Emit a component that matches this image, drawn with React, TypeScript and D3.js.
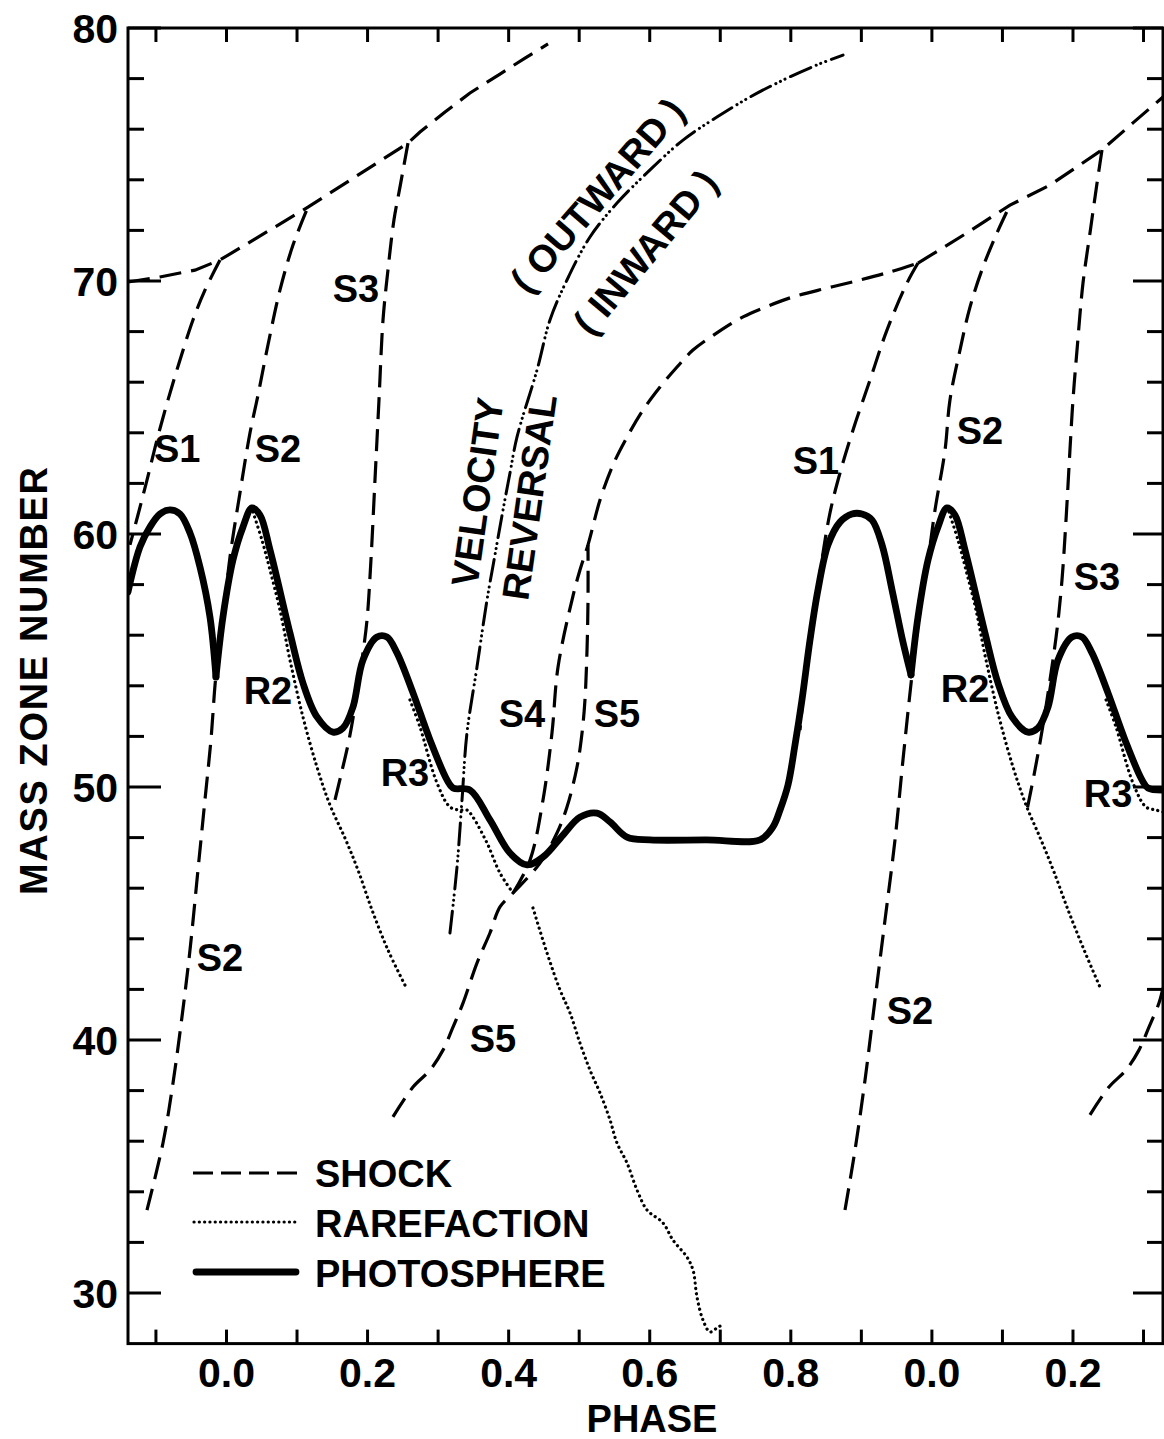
import React from 'react';
import * as d3 from 'd3';

type P = [number, number];

// ---------- data (phase, mass zone) ----------
const envelopeA: P[] = [
  [-0.1396, 69.96], [-0.0943, 70.16], [-0.0447, 70.43], [-0.0092, 70.83],
  [0.1155, 72.92], [0.2573, 75.45], [0.2743, 75.89], [0.3098, 76.68],
  [0.3452, 77.43], [0.3877, 78.18], [0.4232, 78.81], [0.4558, 79.37],
];
const envelopeB: P[] = [
  [0.9803, 70.71], [1.0497, 71.9], [1.1107, 73.0], [1.1674, 73.79],
  [1.2411, 75.18], [1.285, 76.25], [1.3276, 77.27],
];
const shockS1a: P[] = [
  [-0.0092, 70.83], [-0.0305, 69.64], [-0.0475, 68.46], [-0.0659, 66.88],
  [-0.0829, 65.3], [-0.0985, 63.72], [-0.1127, 62.13], [-0.1255, 60.75], [-0.1368, 59.57],
];
const shockS2a: P[] = [
  [-0.1127, 33.28], [-0.09, 35.93], [-0.0758, 38.3], [-0.0631, 40.91], [-0.0517, 43.56],
  [-0.0404, 46.72], [-0.0305, 49.49], [-0.022, 51.86], [-0.0149, 54.43], [-0.005, 56.6],
  [0.005, 59.09], [0.0191, 61.62], [0.0333, 63.99], [0.0447, 65.49], [0.0588, 67.47],
  [0.0758, 69.64], [0.0943, 71.42], [0.1155, 72.92],
];
const shockS3a: P[] = [
  [0.2573, 75.45], [0.246, 73.72], [0.2374, 72.41], [0.2289, 70.43], [0.2219, 68.46],
  [0.2162, 65.3], [0.2105, 62.13], [0.2048, 58.97], [0.1992, 56.6], [0.1921, 55.02],
  [0.1836, 53.44], [0.1737, 51.86], [0.1623, 50.47], [0.151, 49.17],
];
const shockS4: P[] = [
  [0.4062, 45.81], [0.4303, 47.11], [0.4487, 49.49], [0.4614, 52.13], [0.47, 54.74],
  [0.4898, 57.39], [0.5011, 58.58], [0.5125, 59.57], [0.5295, 61.34], [0.5479, 62.73],
  [0.5678, 63.83], [0.5905, 64.9], [0.6146, 65.81], [0.6387, 66.6], [0.6613, 67.27],
  [0.6968, 67.98], [0.7323, 68.58], [0.7677, 69.01], [0.803, 69.37], [0.8512, 69.72],
  [0.8981, 70.04], [0.9406, 70.36], [0.9803, 70.71],
];
const shockS5: P[] = [
  [0.236, 36.96], [0.2644, 38.14], [0.2885, 38.81], [0.3069, 39.6], [0.3211, 40.51],
  [0.3353, 41.46], [0.3551, 43.04], [0.3735, 44.23], [0.3877, 45.26], [0.4062, 45.81],
  [0.4444, 46.99], [0.4685, 48.18], [0.4827, 49.21], [0.4969, 50.79], [0.504, 52.13],
  [0.5082, 53.44], [0.5111, 55.42], [0.5125, 57.39], [0.5125, 59.57],
];
const shockS1b: P[] = [
  [0.9803, 70.71], [0.9647, 69.92], [0.9363, 68.06], [0.9123, 66.09], [0.8882, 64.11],
  [0.8697, 62.41], [0.8555, 60.83], [0.8413, 58.46], [0.83, 56.21], [0.82, 54.23], [0.813, 52.25],
];
const shockS2b: P[] = [
  [0.8768, 33.28], [0.891, 35.65], [0.9052, 38.42], [0.9193, 41.58], [0.9335, 44.74],
  [0.9477, 47.91], [0.959, 51.07], [0.9718, 54.43], [0.9831, 57.0], [0.9945, 58.97],
  [1.0044, 60.95], [1.0186, 63.32], [1.0256, 65.3], [1.0398, 67.27], [1.054, 68.97],
  [1.0724, 70.55], [1.0923, 71.9], [1.1107, 73.0],
];
const shockS3b: P[] = [
  [1.2411, 75.18], [1.2341, 73.87], [1.2241, 71.9], [1.2142, 69.92], [1.2057, 67.27],
  [1.2, 65.3], [1.1957, 63.32], [1.1901, 60.55], [1.1844, 58.18], [1.1773, 56.21],
  [1.1674, 54.23], [1.1575, 52.45], [1.1461, 50.67], [1.1348, 49.09],
];
const shockS5b: P[] = [
  [1.2241, 37.04], [1.251, 38.14], [1.2751, 38.81], [1.2935, 39.6], [1.3077, 40.51],
  [1.3219, 41.46], [1.3276, 42.06],
];
const rareR2a: P[] = [
  [0.0376, 60.87], [0.0503, 59.76], [0.0617, 58.58], [0.0758, 57.0], [0.09, 55.02],
  [0.1084, 52.77], [0.1283, 50.79], [0.1467, 49.29], [0.168, 47.98], [0.1864, 46.72],
  [0.2063, 45.14], [0.2289, 43.56], [0.253, 42.17],
];
const rareR3a: P[] = [
  [0.2601, 53.44], [0.2743, 52.37], [0.2984, 50.16], [0.3168, 49.21], [0.331, 49.09],
  [0.3409, 49.09], [0.3494, 48.81], [0.3693, 47.79], [0.3877, 46.6], [0.4062, 45.81],
];
const rareDeep: P[] = [
  [0.4345, 45.22], [0.4544, 43.44], [0.4728, 41.98], [0.487, 41.07], [0.5011, 39.88],
  [0.5153, 38.81], [0.5295, 37.91], [0.5437, 36.84], [0.5536, 35.93], [0.5678, 35.14],
  [0.582, 34.07], [0.5962, 33.28], [0.6188, 32.77], [0.633, 32.09], [0.6528, 31.42],
  [0.6613, 30.91], [0.667, 29.84], [0.6755, 28.93], [0.6854, 28.46], [0.6953, 28.62], [0.7025, 28.74],
];
const rareR2b: P[] = [
  [1.0242, 60.87], [1.037, 59.76], [1.0483, 58.58], [1.0625, 57.0], [1.0767, 55.02],
  [1.0951, 52.77], [1.115, 50.79], [1.1334, 49.29], [1.1547, 47.91], [1.1731, 46.64],
  [1.193, 45.14], [1.2157, 43.56], [1.2383, 42.09],
];
const rareR3b: P[] = [
  [1.2469, 53.44], [1.261, 52.37], [1.285, 50.16], [1.3035, 49.21], [1.3177, 49.09], [1.3276, 49.01],
];
const velocityReversal: P[] = [
  [0.3168, 44.23], [0.3268, 46.84], [0.3339, 49.49], [0.3409, 52.13], [0.3551, 54.74],
  [0.3693, 57.39], [0.3806, 59.17], [0.392, 60.95], [0.4019, 62.41], [0.4118, 63.83],
  [0.4402, 66.48], [0.4586, 68.46], [0.4827, 70.04], [0.5153, 71.74], [0.5536, 73.08],
  [0.6004, 74.39], [0.6472, 75.57], [0.6953, 76.48], [0.7421, 77.27], [0.7888, 77.94],
  [0.837, 78.54], [0.874, 78.93],
];
const photoA: P[] = [
  [-0.1396, 57.71], [-0.1226, 59.49], [-0.1084, 60.28], [-0.0943, 60.79], [-0.0801, 60.95],
  [-0.0659, 60.79], [-0.0517, 60.04], [-0.0376, 58.7], [-0.0234, 56.72], [-0.0149, 54.35],
];
const photoB: P[] = [
  [-0.0149, 54.35], [-0.005, 56.72], [0.0092, 58.97], [0.0234, 60.28], [0.0361, 61.03],
  [0.0475, 60.75], [0.0617, 59.37], [0.09, 56.09], [0.1084, 54.11], [0.1283, 52.77],
  [0.151, 52.17], [0.1652, 52.33], [0.1793, 53.16], [0.1935, 55.02], [0.2134, 55.93],
  [0.2275, 55.93], [0.2417, 55.3], [0.2644, 53.72], [0.2885, 51.86], [0.3126, 50.28],
  [0.3211, 49.96], [0.3452, 49.88], [0.3735, 48.7], [0.4019, 47.39], [0.426, 46.92],
  [0.4487, 47.23], [0.477, 48.1], [0.5011, 48.81], [0.5252, 48.97], [0.5437, 48.62],
  [0.5678, 48.02], [0.6004, 47.91], [0.68, 47.91], [0.7563, 47.91], [0.7747, 48.42],
  [0.7847, 49.09], [0.796, 50.08], [0.8059, 51.66], [0.8158, 53.44], [0.8272, 55.81],
  [0.8385, 57.79], [0.8527, 59.57], [0.8697, 60.47], [0.8867, 60.79], [0.901, 60.79],
  [0.9152, 60.55], [0.9293, 59.57], [0.9435, 57.79], [0.959, 55.73], [0.9704, 54.43],
];
const photoC: P[] = [
  [0.9704, 54.43], [0.9803, 56.72], [0.9945, 58.97], [1.0086, 60.28], [1.0214, 61.03],
  [1.0327, 60.75], [1.0469, 59.37], [1.0752, 56.09], [1.0937, 54.11], [1.1135, 52.77],
  [1.1362, 52.17], [1.1504, 52.33], [1.1646, 53.16], [1.1787, 55.02], [1.1986, 55.93],
  [1.2127, 55.93], [1.2269, 55.3], [1.2496, 53.72], [1.2737, 51.86], [1.2978, 50.28],
  [1.3063, 49.96], [1.3276, 49.88],
];

const zoneMajor = [30, 40, 50, 60, 70, 80];
const zoneMinor = [32, 34, 36, 38, 42, 44, 46, 48, 52, 54, 56, 58, 62, 64, 66, 68, 72, 74, 76, 78];
const phaseTicks = [-0.1, 0, 0.1, 0.2, 0.3, 0.4, 0.5, 0.6, 0.7, 0.8, 0.9, 1.0, 1.1, 1.2, 1.3];
const phaseLabelAt = [0, 0.2, 0.4, 0.6, 0.8, 1.0, 1.2];
const phaseLabelText = ['0.0', '0.2', '0.4', '0.6', '0.8', '0.0', '0.2'];

const curveLabels: { t: string; p: number; z: number; r: number }[] = [
  { t: 'S1', p: -0.0699, z: 63.4, r: 0 },
  { t: 'S2', p: 0.073, z: 63.4, r: 0 },
  { t: 'S3', p: 0.1836, z: 69.72, r: 0 },
  { t: 'S2', p: -0.0092, z: 43.28, r: 0 },
  { t: 'R2', p: 0.0588, z: 53.83, r: 0 },
  { t: 'R3', p: 0.253, z: 50.59, r: 0 },
  { t: 'S4', p: 0.4189, z: 52.92, r: 0 },
  { t: 'S5', p: 0.5536, z: 52.92, r: 0 },
  { t: 'S5', p: 0.3778, z: 40.08, r: 0 },
  { t: 'S1', p: 0.8357, z: 62.92, r: 0 },
  { t: 'S2', p: 1.0682, z: 64.11, r: 0 },
  { t: 'S3', p: 1.234, z: 58.34, r: 0 },
  { t: 'R2', p: 1.0469, z: 53.91, r: 0 },
  { t: 'R3', p: 1.2496, z: 49.76, r: 0 },
  { t: 'S2', p: 0.9689, z: 41.19, r: 0 },
  { t: 'VELOCITY', p: 0.3551, z: 61.66, r: -82 },
  { t: 'REVERSAL', p: 0.4288, z: 61.46, r: -82 },
  { t: '( OUTWARD )', p: 0.5252, z: 73.4, r: -49 },
  { t: '( INWARD )', p: 0.5932, z: 71.15, r: -50 },
];

const FONT = '"Liberation Sans", Arial, Helvetica, sans-serif';

export default function App() {
  const left = 128, right = 1163, top = 28, bottom = 1343.6;
  const x = d3.scaleLinear().domain([-0.1396, 1.3276]).range([left, right]);
  const y = d3.scaleLinear().domain([28, 80]).range([bottom, top]);
  const smooth = d3.line<P>().x(d => x(d[0])).y(d => y(d[1])).curve(d3.curveCatmullRom.alpha(0.5));
  const straight = d3.line<P>().x(d => x(d[0])).y(d => y(d[1])).curve(d3.curveLinear);

  const shockStyle = { fill: 'none', stroke: '#000', strokeWidth: 3.2, strokeDasharray: '22 10' };
  const rareStyle = { fill: 'none', stroke: '#000', strokeWidth: 3.2, strokeDasharray: '0.1 5.2', strokeLinecap: 'round' as const };
  const photoStyle = { fill: 'none', stroke: '#000', strokeWidth: 6.8, strokeLinecap: 'round' as const, strokeLinejoin: 'round' as const };

  const shocks = [shockS1a, shockS2a, shockS3a, shockS4, shockS5, shockS1b, shockS2b, shockS3b, shockS5b];
  const rares = [rareR2a, rareR3a, rareDeep, rareR2b, rareR3b];

  return (
    <svg width={1164} height={1439} style={{ position: 'absolute', left: 0, top: 0, background: '#fff' }}
      xmlns="http://www.w3.org/2000/svg">
      <defs>
        <clipPath id="plot">
          <rect x={left} y={top} width={right - left} height={bottom - top} />
        </clipPath>
      </defs>
      <rect x={0} y={0} width={1164} height={1439} fill="#fff" />
      <g clipPath="url(#plot)">
        <path d={straight(envelopeA) || ''} {...shockStyle} />
        <path d={straight(envelopeB) || ''} {...shockStyle} />
        {shocks.map((s, i) => <path key={'s' + i} d={smooth(s) || ''} {...shockStyle} />)}
        {rares.map((s, i) => <path key={'r' + i} d={smooth(s) || ''} {...rareStyle} />)}
        <path d={smooth(velocityReversal) || ''} fill="none" stroke="#000" strokeWidth={3}
          strokeDasharray="22 6 0.1 5 0.1 5 0.1 6" strokeLinecap="round" />
        {[photoA, photoB, photoC].map((s, i) => <path key={'p' + i} d={smooth(s) || ''} {...photoStyle} />)}
      </g>

      {/* frame */}
      <rect x={left} y={top} width={right - left} height={bottom - top} fill="none" stroke="#000" strokeWidth={3} />
      {/* y ticks */}
      {zoneMajor.map(v => (
        <g key={'ym' + v}>
          <line x1={left} x2={left + 33} y1={y(v)} y2={y(v)} stroke="#000" strokeWidth={3} />
          <line x1={right} x2={right - 30} y1={y(v)} y2={y(v)} stroke="#000" strokeWidth={3} />
          <text x={118} y={y(v)} dy="0.36em" textAnchor="end" fontFamily={FONT} fontWeight="bold" fontSize={41}>{v}</text>
        </g>
      ))}
      {zoneMinor.map(v => (
        <g key={'yn' + v}>
          <line x1={left} x2={left + 16} y1={y(v)} y2={y(v)} stroke="#000" strokeWidth={3} />
          <line x1={right} x2={right - 16} y1={y(v)} y2={y(v)} stroke="#000" strokeWidth={3} />
        </g>
      ))}
      {/* x ticks */}
      {phaseTicks.map(v => (
        <g key={'xt' + v}>
          <line x1={x(v)} x2={x(v)} y1={bottom} y2={bottom - 14} stroke="#000" strokeWidth={3} />
          <line x1={x(v)} x2={x(v)} y1={top} y2={top + 14} stroke="#000" strokeWidth={3} />
        </g>
      ))}
      {phaseLabelAt.map((v, i) => (
        <text key={'xl' + i} x={x(v)} y={1387} textAnchor="middle" fontFamily={FONT} fontWeight="bold" fontSize={41}>
          {phaseLabelText[i]}
        </text>
      ))}
      <text x={652} y={1432} textAnchor="middle" fontFamily={FONT} fontWeight="bold" fontSize={38}>PHASE</text>
      <text transform="translate(33,681) rotate(-90)" dy="0.36em" textAnchor="middle" fontFamily={FONT}
        fontWeight="bold" fontSize={38} textLength={428} lengthAdjust="spacing">MASS ZONE NUMBER</text>

      {/* curve labels */}
      {curveLabels.map((l, i) => (
        <text key={'cl' + i} transform={`translate(${x(l.p)},${y(l.z)}) rotate(${l.r})`} dy="0.36em"
          textAnchor="middle" fontFamily={FONT} fontWeight="bold" fontSize={38}>{l.t}</text>
      ))}

      {/* legend */}
      <line x1={193} x2={297} y1={1173} y2={1173} {...shockStyle} strokeDasharray="20 8" />
      <line x1={194} x2={296} y1={1222} y2={1222} {...rareStyle} />
      <line x1={196} x2={296} y1={1272} y2={1272} {...photoStyle} />
      <text x={315} y={1173} dy="0.36em" fontFamily={FONT} fontWeight="bold" fontSize={38}>SHOCK</text>
      <text x={315} y={1223} dy="0.36em" fontFamily={FONT} fontWeight="bold" fontSize={38}>RAREFACTION</text>
      <text x={315} y={1273} dy="0.36em" fontFamily={FONT} fontWeight="bold" fontSize={38}>PHOTOSPHERE</text>
    </svg>
  );
}
